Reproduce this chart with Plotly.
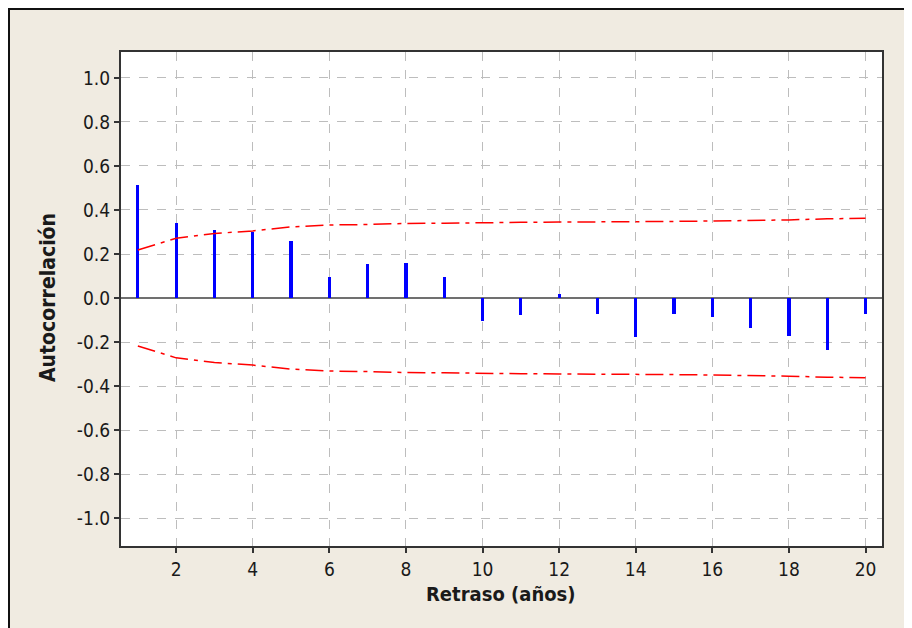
import plotly.graph_objects as go

lags = list(range(1, 21))
acf = [0.514, 0.340, 0.311, 0.300, 0.258, 0.097, 0.156, 0.158, 0.097, -0.106,
       -0.075, 0.020, -0.071, -0.177, -0.071, -0.088, -0.136, -0.171, -0.235, -0.071]
upper = [0.218, 0.272, 0.293, 0.305, 0.323, 0.332, 0.334, 0.339, 0.340, 0.343,
         0.344, 0.345, 0.345, 0.346, 0.348, 0.350, 0.352, 0.355, 0.360, 0.362]
lower = [-v for v in upper]

y_ticks = [-1.0, -0.8, -0.6, -0.4, -0.2, 0.0, 0.2, 0.4, 0.6, 0.8, 1.0]
y_labels = ["-1.0", "-0.8", "-0.6", "-0.4", "-0.2", "0.0", "0.2", "0.4", "0.6", "0.8", "1.0"]
x_ticks = [2, 4, 6, 8, 10, 12, 14, 16, 18, 20]

FONT = "DejaVu Sans Condensed, DejaVu Sans, Liberation Sans, sans-serif"
BEIGE = "#f0ebe1"

fig = go.Figure()
fig.add_trace(go.Bar(x=lags, y=acf, width=0.085, marker=dict(color="#0000ff", line=dict(width=0)),
                     showlegend=False, hoverinfo="x+y"))
for lim in (upper, lower):
    fig.add_trace(go.Scatter(x=lags, y=lim, mode="lines",
                             line=dict(color="#ff0000", width=1.5, dash="18px,6px,4px,6px"),
                             showlegend=False))

# page offset (body margin) of 8px
OFF = 8
W, H = 912 - OFF, 628 - OFF
L, T = 121 - OFF, 52 - OFF
R = 912 - 882
B = 628 - 546
pw, ph = W - L - R, H - T - B

def px_x(px):
    return (px - OFF - L) / pw

def px_y(py):
    return (H - B - (py - OFF)) / ph

fig.update_layout(
    width=W, height=H,
    margin=dict(l=L, r=R, t=T, b=B, pad=0),
    paper_bgcolor=BEIGE,
    plot_bgcolor="white",
    font=dict(family=FONT, size=19, color="#1a1a1a"),
    bargap=0,
    shapes=[
        dict(type="rect", xref="paper", yref="paper", layer="below",
             x0=px_x(9), x1=px_x(960), y0=px_y(680), y1=px_y(9),
             fillcolor=BEIGE, line=dict(color="#111111", width=2)),
        dict(type="rect", xref="paper", yref="paper", layer="below",
             x0=0, x1=1, y0=0, y1=1, fillcolor="white", line=dict(width=0)),
    ],
    annotations=[
        dict(text="<b>Retraso (años)</b>", xref="paper", yref="paper",
             x=px_x(501), y=px_y(594), showarrow=False, xanchor="center", yanchor="middle",
             font=dict(family=FONT, size=20, color="#1a1a1a")),
        dict(text="<b>Autocorrelación</b>", xref="paper", yref="paper",
             x=px_x(48), y=px_y(298), showarrow=False, xanchor="center", yanchor="middle",
             textangle=-90, font=dict(family=FONT, size=21, color="#1a1a1a")),
    ],
)
fig.update_xaxes(range=[0.56, 20.43], tickvals=x_ticks, ticks="outside", ticklen=5,
                 tickwidth=1.5, tickcolor="#333333", showgrid=True, gridcolor="#bdbdbd",
                 griddash="dash", gridwidth=1, showline=True, linecolor="#333333",
                 linewidth=2, mirror=True, zeroline=False, tickfont=dict(size=19))
fig.update_yaxes(range=[-1.127, 1.118], tickvals=y_ticks, ticktext=y_labels, ticks="outside",
                 ticklen=5, tickwidth=1.5, tickcolor="#333333", showgrid=True,
                 gridcolor="#bdbdbd", griddash="dash", gridwidth=1, showline=True,
                 linecolor="#333333", linewidth=2, mirror=True, zeroline=True,
                 zerolinecolor="#707070", zerolinewidth=2, tickfont=dict(size=19))

fig.write_html("out.html")
